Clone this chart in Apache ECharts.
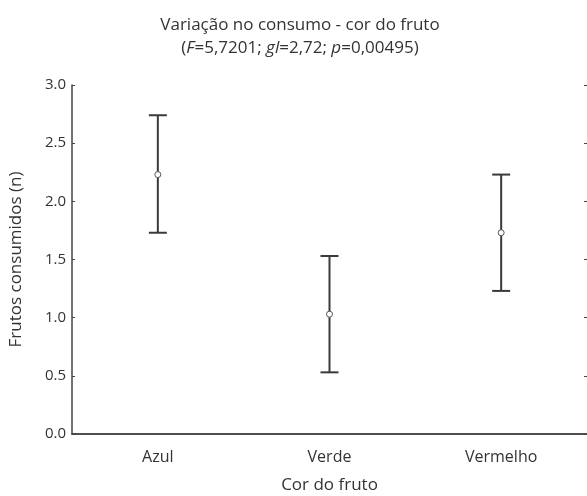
<!DOCTYPE html>
<html>
<head>
<meta charset="utf-8">
<script src="https://cdn.jsdelivr.net/npm/echarts@6/dist/echarts.min.js"></script>
<style>
html, body { margin: 0; background: #fff; }
#main { width: 587px; height: 496px; }
</style>
</head>
<body>
<div id="main"></div>
<script>
// dados
var categories = ['Azul', 'Verde', 'Vermelho'];
var means = [2.23, 1.03, 1.73];
var lowers = [1.73, 0.53, 1.23];
var uppers = [2.74, 1.53, 2.23];

var FONT = '"Open Sans", "Noto Sans", sans-serif';
var AXIS = '#444';
var TEXT = '#333';

var myChart = echarts.init(document.getElementById('main'));

var barData = categories.map(function (c, i) {
	return [i, lowers[i], uppers[i]];
});

myChart.setOption({
	animation: false,
	textStyle: { fontFamily: FONT },
	title: {
		text: 'Variação no consumo - cor do fruto\n({i|F}=5,7201; {i|gl}=2,72; {i|p}=0,00495)',
		left: 300,
		top: 14,
		padding: 0,
		textAlign: 'center',
		textStyle: {
			fontFamily: FONT,
			fontSize: 17,
			fontWeight: 'normal',
			color: TEXT,
			lineHeight: 23,
			rich: {
				i: { fontFamily: FONT, fontSize: 17, fontStyle: 'italic', color: TEXT, lineHeight: 23 }
			}
		}
	},
	grid: {
		left: 72,
		right: 0,
		top: 85,
		bottom: 62,
		outerBoundsMode: 'none'
	},
	xAxis: [{
		type: 'category',
		data: categories,
		position: 'bottom',
		name: 'Cor do fruto',
		nameLocation: 'middle',
		nameGap: 43,
		nameTextStyle: { fontSize: 17, color: TEXT, fontFamily: FONT },
		axisLine: { lineStyle: { color: AXIS, width: 1.5 } },
		axisTick: { inside: true, length: 3, alignWithLabel: true, lineStyle: { color: AXIS } },
		axisLabel: { fontSize: 16, color: TEXT, margin: 15, fontFamily: FONT },
		splitLine: { show: false }
	}, {
		type: 'category',
		data: categories,
		position: 'top',
		axisLine: { lineStyle: { color: AXIS, width: 1.5 } },
		axisTick: { inside: true, length: 3, alignWithLabel: true, lineStyle: { color: AXIS } },
		axisLabel: { show: false },
		splitLine: { show: false }
	}],
	yAxis: [{
		type: 'value',
		min: 0,
		max: 3,
		interval: 0.5,
		position: 'left',
		name: 'Frutos consumidos (n)',
		nameLocation: 'middle',
		nameGap: 47,
		nameTextStyle: { fontSize: 17, color: TEXT, fontFamily: FONT },
		axisLine: { show: true, lineStyle: { color: AXIS, width: 1.5 } },
		axisTick: { show: true, inside: true, length: 3, lineStyle: { color: AXIS } },
		axisLabel: {
			fontSize: 15, color: TEXT, margin: 6, fontFamily: FONT,
			formatter: function (v) { return v.toFixed(1); }
		},
		splitLine: { show: false }
	}, {
		type: 'value',
		min: 0,
		max: 3,
		interval: 0.5,
		position: 'right',
		axisLine: { show: false },
		axisTick: { show: true, inside: true, length: 3, lineStyle: { color: AXIS } },
		axisLabel: { show: false },
		splitLine: { show: false }
	}],
	series: [{
		type: 'custom',
		xAxisIndex: 0,
		yAxisIndex: 0,
		data: barData,
		renderItem: function (params, api) {
			var x = api.value(0);
			var lo = api.coord([x, api.value(1)]);
			var hi = api.coord([x, api.value(2)]);
			var half = 9;
			var style = { stroke: '#3a3a3a', lineWidth: 2 };
			return {
				type: 'group',
				children: [
					{ type: 'line', shape: { x1: hi[0], y1: hi[1], x2: lo[0], y2: lo[1] }, style: style },
					{ type: 'line', shape: { x1: hi[0] - half, y1: hi[1], x2: hi[0] + half, y2: hi[1] }, style: style },
					{ type: 'line', shape: { x1: lo[0] - half, y1: lo[1], x2: lo[0] + half, y2: lo[1] }, style: style }
				]
			};
		},
		z: 2
	}, {
		type: 'scatter',
		xAxisIndex: 0,
		yAxisIndex: 0,
		data: means,
		symbol: 'circle',
		symbolSize: 6,
		itemStyle: { color: '#fff', borderColor: '#555', borderWidth: 1, opacity: 1 },
		z: 3
	}]
});
</script>
</body>
</html>
